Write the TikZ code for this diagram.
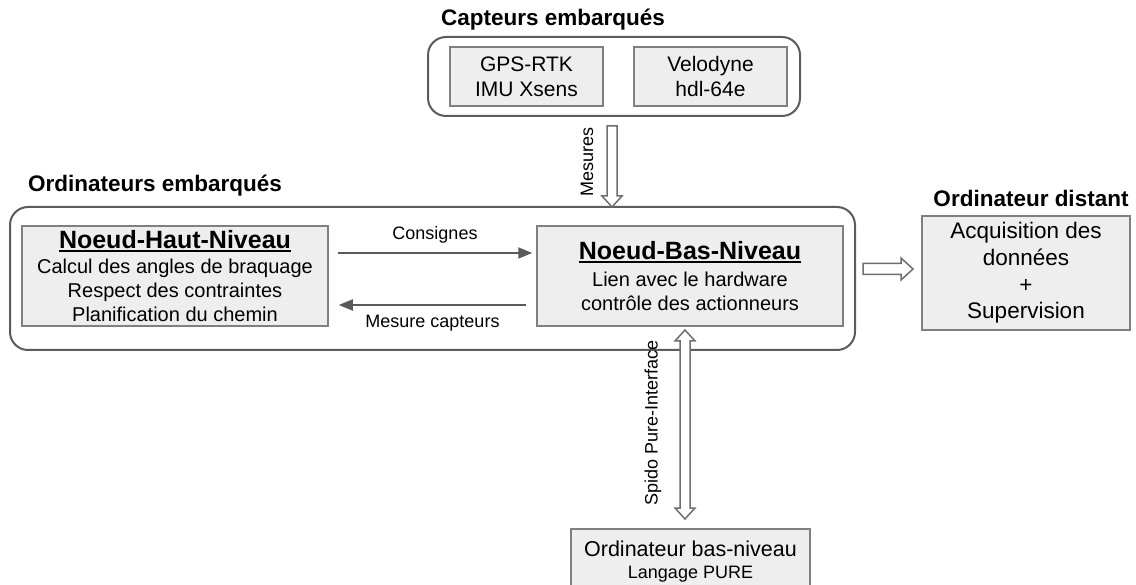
\documentclass[tikz,border=0pt]{standalone}
\usepackage{fontspec}
\setmainfont{Liberation Sans}
\usetikzlibrary{arrows.meta,calc}
\definecolor{boxfill}{HTML}{EEEEEE}
\definecolor{boxline}{HTML}{808080}
\definecolor{outerline}{HTML}{5C5C5C}
\definecolor{arrline}{HTML}{5A5A5A}
\definecolor{fatline}{HTML}{6E6E6E}
\newcommand\ulbold[1]{\setbox0=\hbox{#1}\rlap{\rule[-3.5pt]{\wd0}{2pt}}\box0}
\tikzset{
  graybox/.style={draw=boxline, line width=1.5pt, fill=boxfill, inner sep=0pt, align=center},
  outerbox/.style={draw=outerline, line width=2pt, fill=white, rounded corners=18pt, inner sep=0pt},
  conn/.style={draw=arrline, line width=2pt, -{Triangle[length=14pt,width=11pt]}},
  fat/.style={draw=fatline, line width=1.5pt, fill=white, line join=miter},
  title/.style={font=\fontsize{22.5}{26}\selectfont\bfseries, inner sep=0pt},
  lbl/.style={font=\fontsize{18}{21}\selectfont, inner sep=0pt}
}
\begin{document}
\begin{tikzpicture}[x=1pt,y=-1pt]
\useasboundingbox (0,0) rectangle (1136,585);
\clip (0,0) rectangle (1136,585);

% Capteurs embarques
\node[title] (tcapt) at (553,20) {Capteurs embarqués};
\node[outerbox, minimum width=372pt, minimum height=79pt] (capt) at (614,76.5) {};
\node[graybox, minimum width=153pt, minimum height=59pt, font=\fontsize{21}{25}\selectfont] (gps) at (526.5,76.5) {GPS-RTK\\IMU Xsens};
\node[graybox, minimum width=153pt, minimum height=59pt, font=\fontsize{21}{25}\selectfont] (velo) at (710.5,76.5) {Velodyne\\hdl-64e};

% Ordinateurs embarques
\node[title, anchor=west] (temb) at (28,186) {Ordinateurs embarqués};
\node[outerbox, minimum width=845pt, minimum height=143pt] (emb) at (432.5,278.5) {};
\node[graybox, minimum width=306pt, minimum height=100pt, font=\fontsize{20}{24}\selectfont] (nhn) at (175,276)
  {{\fontsize{25}{25}\selectfont\bfseries\ulbold{Noeud-Haut-Niveau}}\\[1pt]Calcul des angles de braquage\\Respect des contraintes\\Planification du chemin};
\node[graybox, minimum width=306pt, minimum height=100pt, font=\fontsize{20}{24}\selectfont] (nbn) at (690,276)
  {{\fontsize{25}{25}\selectfont\bfseries\ulbold{Noeud-Bas-Niveau}}\\[3pt]Lien avec le hardware\\contrôle des actionneurs};

\draw[conn] ($(nhn.east)+(9,-23)$) -- node[lbl, above=9pt] (lcons) {Consignes} ($(nbn.west)+(-4,-23)$);
\draw[conn] ($(nbn.west)+(-10,29)$) -- node[lbl, below=9pt] (lmes) {Mesure capteurs} ($(nhn.east)+(10,29)$);

% Ordinateur distant
\node[title] (tdist) at (1031,198) {Ordinateur distant};
\node[graybox, minimum width=208pt, minimum height=114pt, font=\fontsize{22.5}{26.7}\selectfont] (dist) at (1026,273)
  {Acquisition des\\données\\+\\Supervision};

% Ordinateur bas-niveau
\node[graybox, minimum width=239pt, minimum height=65pt, font=\fontsize{18}{22}\selectfont] (bas) at (690.5,561.5)
  {{\fontsize{21.5}{22}\selectfont Ordinateur bas-niveau}\\Langage PURE};

% fat arrows
\coordinate (mA) at (612,126);
\coordinate (mB) at (612,207);
\draw[fat] let \p1=(mA), \p2=(mB) in
  (\x1-5pt,\y1) -- (\x1-5pt,\y2+11pt) -- (\x1-10pt,\y2+11pt) -- (\x1,\y2) -- (\x1+10pt,\y2+11pt) -- (\x1+5pt,\y2+11pt) -- (\x1+5pt,\y1) -- cycle;
\node[lbl, rotate=90] (lmesures) at (587,162) {Mesures};

\coordinate (dA) at (863,269);
\coordinate (dB) at (913,269);
\draw[fat] let \p1=(dA), \p2=(dB) in
  (\x1,\y1+5.5pt) -- (\x2-12pt,\y1+5.5pt) -- (\x2-12pt,\y1+11pt) -- (\x2,\y1) -- (\x2-12pt,\y1-11pt) -- (\x2-12pt,\y1-5.5pt) -- (\x1,\y1-5.5pt) -- cycle;

\coordinate (sA) at (685,330);
\coordinate (sB) at (685,519);
\draw[fat] let \p1=(sA), \p2=(sB) in
  (\x1,\y1) -- (\x1+10pt,\y1-11pt) -- (\x1+5pt,\y1-11pt) -- (\x1+5pt,\y2+11pt) -- (\x1+10pt,\y2+11pt) -- (\x1,\y2)
  -- (\x1-10pt,\y2+11pt) -- (\x1-5pt,\y2+11pt) -- (\x1-5pt,\y1-11pt) -- (\x1-10pt,\y1-11pt) -- cycle;
\node[lbl, rotate=90] (lspido) at (653,423) {Spido Pure-Interface};
\end{tikzpicture}
\end{document}
